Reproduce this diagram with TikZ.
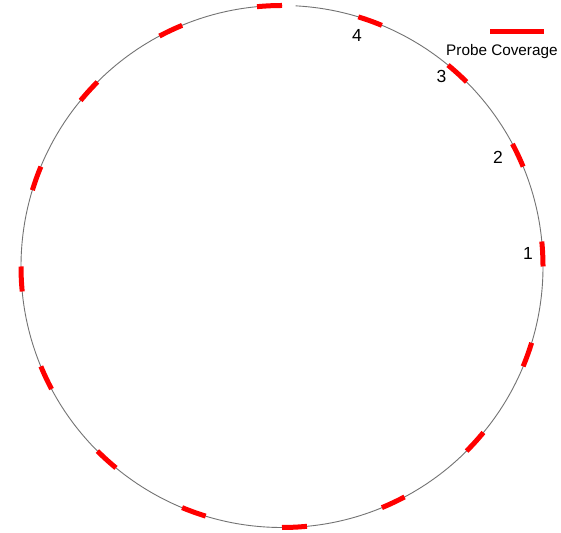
\documentclass[tikz,border=0pt]{standalone}
\usepackage{fontspec}
\setmainfont{Liberation Sans}
\usetikzlibrary{calc}
\tikzset{
  rim/.style={draw=black!55, line width=0.9pt},
  seg/.style={draw=red, line width=5pt},
  num/.style={font=\fontsize{17.5}{17.5}\selectfont, inner sep=0pt},
  legtext/.style={font=\fontsize{15.3}{15.3}\selectfont, inner sep=0pt, anchor=base west}
}
\begin{document}
\begin{tikzpicture}[x=1pt,y=1pt]
\useasboundingbox (0,0) rectangle (561,532);
\fill[white] (0,0) rectangle (561,532);
\coordinate (c) at (282,265.5);
% circle with small gap at top
\draw[rim] ($(c)+(90:261)$) arc[start angle=90, end angle=447, radius=261];
% probe coverage segments
\foreach \k in {0,...,15}{
  \pgfmathsetmacro{\a}{22.5*\k}
  \pgfmathsetmacro{\b}{22.5*\k+5.5}
  \draw[seg] ($(c)+(\a:261)$) arc[start angle=\a, end angle=\b, radius=261];
}
% labels
\node[num] (n1) at (528,279) {1};
\node[num] (n2) at (498,374.5) {2};
\node[num] (n3) at (441.5,456) {3};
\node[num] (n4) at (357,497) {4};
% legend
\coordinate (la) at (490,500);
\coordinate (lb) at (544,500);
\draw[seg] (la) -- (lb);
\node[legtext] (lt) at (446,476) {Probe Coverage};
\end{tikzpicture}
\end{document}
